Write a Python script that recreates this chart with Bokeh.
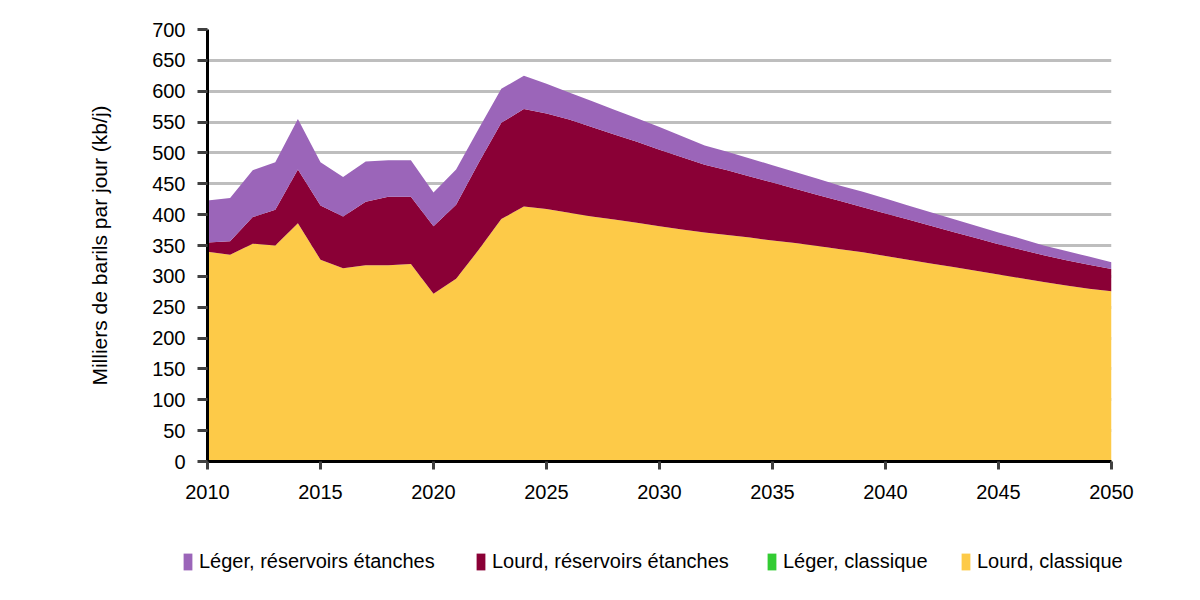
from bokeh.plotting import figure
from bokeh.models import ColumnDataSource, FixedTicker, Legend, LegendItem, Range1d
from bokeh.embed import file_html
from bokeh.resources import INLINE

years = list(range(2010, 2051))

lourd_classique = [340, 335, 353, 350, 386, 327, 313, 318, 318, 320,
                   272, 296, 343, 393, 413, 409, 403, 397, 392, 387,
                   381, 376, 371, 367, 363, 358, 354, 349, 344, 339,
                   333, 327, 321, 315, 309, 303, 297, 291, 285, 280, 276]
leger_classique = [0, 0, 0, 0, 0, 0, 0, 0, 0, 0,
                   0, 0, 0, 0, 0, 0, 0, 0, 0, 0,
                   0, 0, 0, 0, 0, 0, 0, 0, 0, 0,
                   0, 0, 0, 0, 0, 0, 0, 0, 0, 0, 0]
lourd_etanche = [15, 22, 43, 58, 87, 88, 84, 103, 111, 109,
                 109, 120, 141, 156, 158, 155, 151, 145, 138, 131,
                 124, 117, 110, 105, 99, 94, 88, 83, 78, 73,
                 69, 65, 61, 57, 53, 49, 46, 43, 41, 39, 36]
leger_etanche = [68, 70, 76, 77, 82, 70, 64, 65, 59, 59,
                 55, 57, 55, 55, 54, 48, 44, 42, 40, 38,
                 37, 34, 31, 30, 29, 28, 27, 26, 25, 25,
                 24, 23, 22, 21, 20, 19, 18, 16, 15, 13, 11]

series_names = ["Lourd, classique", "Léger, classique",
                "Lourd, réservoirs étanches", "Léger, réservoirs étanches"]
series_colors = ["#FDCA48", "#33CC33", "#8A0036", "#9B65B9"]

y_ticks = list(range(0, 701, 50))
x_ticks = list(range(2010, 2051, 5))

src = ColumnDataSource(dict(year=years, lc=lourd_classique, gc=leger_classique,
                            le=lourd_etanche, ge=leger_etanche))
stack_cols = ["lc", "gc", "le", "ge"]

FONT = "Liberation Sans"
W = 1192

p = figure(width=W, height=515, output_backend="svg", toolbar_location=None,
           x_range=Range1d(2010, 2050), y_range=Range1d(0, 700),
           min_border_left=207, min_border_right=81, min_border_top=29,
           min_border_bottom=54)

rs = p.varea_stack(stackers=stack_cols, x="year", color=series_colors, source=src)

p.outline_line_color = None
p.xgrid.grid_line_color = None
p.ygrid.grid_line_color = "#BEBEBE"
p.ygrid.grid_line_width = 3
p.ygrid.ticker = FixedTicker(ticks=y_ticks)

for ax in (p.xaxis[0], p.yaxis[0]):
    ax.axis_line_color = "black"
    ax.axis_line_width = 3
    ax.major_tick_line_color = "#404040"
    ax.major_tick_line_width = 3
    ax.major_tick_in = 0
    ax.minor_tick_line_color = None
    ax.major_label_text_font = FONT
    ax.major_label_text_font_size = "20px"
    ax.major_label_text_color = "black"

p.yaxis[0].ticker = FixedTicker(ticks=y_ticks)
p.yaxis[0].major_tick_out = 10
p.yaxis[0].major_label_standoff = 12
p.yaxis[0].axis_label = "Milliers de barils par jour (kb/j)"
p.yaxis[0].axis_label_text_font = FONT
p.yaxis[0].axis_label_text_font_size = "21px"
p.yaxis[0].axis_label_text_font_style = "normal"
p.yaxis[0].axis_label_text_color = "black"
p.yaxis[0].axis_label_standoff = 38

p.xaxis[0].ticker = FixedTicker(ticks=x_ticks)
p.xaxis[0].major_tick_out = 8
p.xaxis[0].major_label_standoff = 15

# legend strip below the chart (separate root, so its frame spans the full width)
lg = figure(width=W, height=77, output_backend="svg", toolbar_location=None,
            x_range=Range1d(0, 1), y_range=Range1d(0, 1),
            x_axis_location=None, y_axis_location=None,
            min_border=0, min_border_left=0, min_border_right=0,
            min_border_top=0, min_border_bottom=0)
lg.outline_line_color = None
lg.xgrid.visible = False
lg.ygrid.visible = False
lrs = lg.varea_stack(stackers=stack_cols, x="year", color=series_colors, source=src)
for r in lrs:
    r.visible = False

legend_order = [3, 2, 1, 0]
legend_x = [182, 475, 766, 960]
for idx, lx in zip(legend_order, legend_x):
    leg = Legend(items=[LegendItem(label=series_names[idx], renderers=[lrs[idx]])],
                 location=(lx, 19), orientation="horizontal",
                 glyph_width=11, glyph_height=21, label_standoff=6,
                 label_height=21,
                 padding=0, margin=0, border_line_color=None,
                 background_fill_alpha=0,
                 label_text_font=FONT, label_text_font_size="20px",
                 label_text_color="black")
    lg.add_layout(leg, "center")

open("out.html", "w").write(file_html([p, lg], INLINE))
